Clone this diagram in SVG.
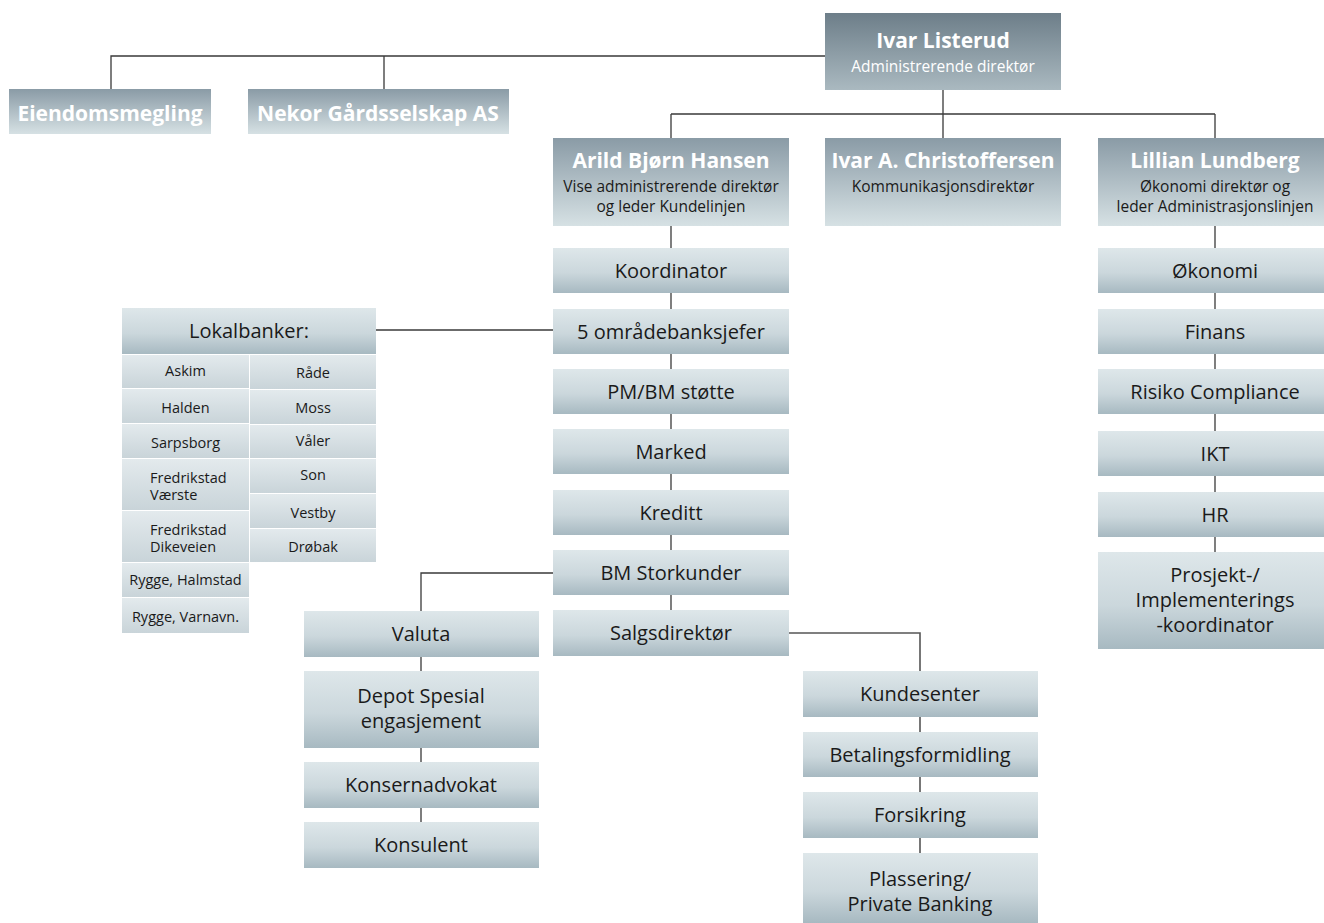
<svg xmlns="http://www.w3.org/2000/svg" width="1324" height="923" viewBox="0 0 1324 923">
<defs>
<linearGradient id="gTop" x1="0" y1="0" x2="0" y2="1"><stop offset="0" stop-color="#6d7e89"/><stop offset="1" stop-color="#aab9c0"/></linearGradient>
<linearGradient id="gHead" x1="0" y1="0" x2="0" y2="1"><stop offset="0" stop-color="#8a9ba6"/><stop offset="1" stop-color="#d6e1e4"/></linearGradient>
<linearGradient id="gSub" x1="0" y1="0" x2="0" y2="1"><stop offset="0" stop-color="#dee7ea"/><stop offset="0.55" stop-color="#cbd7dc"/><stop offset="1" stop-color="#a7b9c1"/></linearGradient>
<linearGradient id="gCell" x1="0" y1="0" x2="0" y2="1"><stop offset="0" stop-color="#e3eaed"/><stop offset="1" stop-color="#c9d4d9"/></linearGradient>
</defs>
<style>
.top{fill:url(#gTop)}
.head{fill:url(#gHead)}
.sub{fill:url(#gSub)}
.cell{fill:url(#gCell)}
text{font-family:"Open Sans","Noto Sans","Liberation Sans",sans-serif;text-anchor:middle}
.t{font-size:21px;font-weight:bold;fill:#ffffff}
.s{font-size:15.5px;fill:#1a1a1a}
.w{font-size:15.5px;fill:#ffffff}
.l{font-size:20px;fill:#1a1a1a}
.c{font-size:14.5px;fill:#1a1a1a}
.cl{font-size:14.5px;fill:#1a1a1a;text-anchor:start}
.conn{fill:none;stroke:#3a3a3a;stroke-width:1.3}
</style>
<g id="connectors" class="conn">
<path d="M111,90 V56 H825 M384,56 V89"/>
<path d="M943,90 V114 M671,114 H1215 M671,114 V138 M943,114 V138 M1215,114 V138"/>
<path d="M671,226 V610"/>
<path d="M1215,226 V552"/>
<path d="M376,330 H553"/>
<path d="M553,573 H421 V611 M421,657 V822"/>
<path d="M789,633 H920 V671 M920,717 V853" stroke="#555" stroke-width="1.6"/>
</g>
<g id="ivar-listerud"><rect class="top" x="825" y="13" width="236" height="77"/><text class="t" x="943" y="48">Ivar Listerud</text><text class="w" x="943" y="72">Administrerende direktør</text></g>
<g id="eiendomsmegling"><rect class="head" x="9" y="89" width="202" height="45"/><text class="t" x="110" y="121">Eiendomsmegling</text></g>
<g id="nekor"><rect class="head" x="248" y="89" width="261" height="45"/><text class="t" x="378" y="121">Nekor Gårdsselskap AS</text></g>
<g id="arild"><rect class="head" x="553" y="138" width="236" height="88"/><text class="t" x="671" y="168">Arild Bjørn Hansen</text><text class="s" x="671" y="192">Vise administrerende direktør</text><text class="s" x="671" y="212">og leder Kundelinjen</text></g>
<g id="ivar-a"><rect class="head" x="825" y="138" width="236" height="88"/><text class="t" x="943" y="168">Ivar A. Christoffersen</text><text class="s" x="943" y="192">Kommunikasjonsdirektør</text></g>
<g id="lillian"><rect class="head" x="1098" y="138" width="226" height="88"/><text class="t" x="1215" y="168">Lillian Lundberg</text><text class="s" x="1215" y="192">Økonomi direktør og</text><text class="s" x="1215" y="212">leder Administrasjonslinjen</text></g>
<g id="koordinator"><rect class="sub" x="553" y="248" width="236" height="45"/><text class="l" x="671" y="278">Koordinator</text></g>
<g id="omradebanksjefer"><rect class="sub" x="553" y="309" width="236" height="45"/><text class="l" x="671" y="339">5 områdebanksjefer</text></g>
<g id="pmbm"><rect class="sub" x="553" y="369" width="236" height="45"/><text class="l" x="671" y="399">PM/BM støtte</text></g>
<g id="marked"><rect class="sub" x="553" y="429" width="236" height="45"/><text class="l" x="671" y="459">Marked</text></g>
<g id="kreditt"><rect class="sub" x="553" y="490" width="236" height="45"/><text class="l" x="671" y="520">Kreditt</text></g>
<g id="bm-storkunder"><rect class="sub" x="553" y="550" width="236" height="45"/><text class="l" x="671" y="580">BM Storkunder</text></g>
<g id="salgsdirektor"><rect class="sub" x="553" y="610" width="236" height="46"/><text class="l" x="671" y="640">Salgsdirektør</text></g>
<g id="okonomi"><rect class="sub" x="1098" y="248" width="226" height="45"/><text class="l" x="1215" y="278">Økonomi</text></g>
<g id="finans"><rect class="sub" x="1098" y="309" width="226" height="45"/><text class="l" x="1215" y="339">Finans</text></g>
<g id="risiko"><rect class="sub" x="1098" y="369" width="226" height="45"/><text class="l" x="1215" y="399">Risiko Compliance</text></g>
<g id="ikt"><rect class="sub" x="1098" y="431" width="226" height="45"/><text class="l" x="1215" y="461">IKT</text></g>
<g id="hr"><rect class="sub" x="1098" y="492" width="226" height="45"/><text class="l" x="1215" y="522">HR</text></g>
<g id="prosjekt"><rect class="sub" x="1098" y="552" width="226" height="97"/><text class="l" x="1215" y="582">Prosjekt-/</text><text class="l" x="1215" y="607">Implementerings</text><text class="l" x="1215" y="632">-koordinator</text></g>
<g id="valuta"><rect class="sub" x="304" y="611" width="235" height="46"/><text class="l" x="421" y="641">Valuta</text></g>
<g id="depot"><rect class="sub" x="304" y="671" width="235" height="77"/><text class="l" x="421" y="703">Depot Spesial</text><text class="l" x="421" y="728">engasjement</text></g>
<g id="konsernadvokat"><rect class="sub" x="304" y="762" width="235" height="46"/><text class="l" x="421" y="792">Konsernadvokat</text></g>
<g id="konsulent"><rect class="sub" x="304" y="822" width="235" height="46"/><text class="l" x="421" y="852">Konsulent</text></g>
<g id="kundesenter"><rect class="sub" x="803" y="671" width="235" height="46"/><text class="l" x="920" y="701">Kundesenter</text></g>
<g id="betalingsformidling"><rect class="sub" x="803" y="732" width="235" height="45"/><text class="l" x="920" y="762">Betalingsformidling</text></g>
<g id="forsikring"><rect class="sub" x="803" y="792" width="235" height="46"/><text class="l" x="920" y="822">Forsikring</text></g>
<g id="plassering"><rect class="sub" x="803" y="853" width="235" height="70"/><text class="l" x="920" y="886">Plassering/</text><text class="l" x="920" y="911">Private Banking</text></g>
<g id="lokalbanker">
<rect class="sub" x="122" y="308" width="254" height="46"/><text class="l" x="249" y="338">Lokalbanker:</text>
<rect class="cell" x="122" y="355" width="127" height="33"/><text class="c" x="185.5" y="376">Askim</text>
<rect class="cell" x="122" y="389" width="127" height="34"/><text class="c" x="185.5" y="413">Halden</text>
<rect class="cell" x="122" y="424" width="127" height="34"/><text class="c" x="185.5" y="448">Sarpsborg</text>
<rect class="cell" x="122" y="459" width="127" height="51"/><text class="cl" x="150" y="483">Fredrikstad</text><text class="cl" x="150" y="500">Værste</text>
<rect class="cell" x="122" y="511" width="127" height="51"/><text class="cl" x="150" y="535">Fredrikstad</text><text class="cl" x="150" y="552">Dikeveien</text>
<rect class="cell" x="122" y="563" width="127" height="34"/><text class="c" x="185.5" y="585">Rygge, Halmstad</text>
<rect class="cell" x="122" y="598" width="127" height="35"/><text class="c" x="185.5" y="622">Rygge, Varnavn.</text>
<rect class="cell" x="250" y="355" width="126" height="34"/><text class="c" x="313" y="378">Råde</text>
<rect class="cell" x="250" y="390" width="126" height="34"/><text class="c" x="313" y="413">Moss</text>
<rect class="cell" x="250" y="425" width="126" height="33"/><text class="c" x="313" y="446">Våler</text>
<rect class="cell" x="250" y="459" width="126" height="34"/><text class="c" x="313" y="480">Son</text>
<rect class="cell" x="250" y="494" width="126" height="34"/><text class="c" x="313" y="518">Vestby</text>
<rect class="cell" x="250" y="529" width="126" height="33"/><text class="c" x="313" y="552">Drøbak</text>
</g>
</svg>
